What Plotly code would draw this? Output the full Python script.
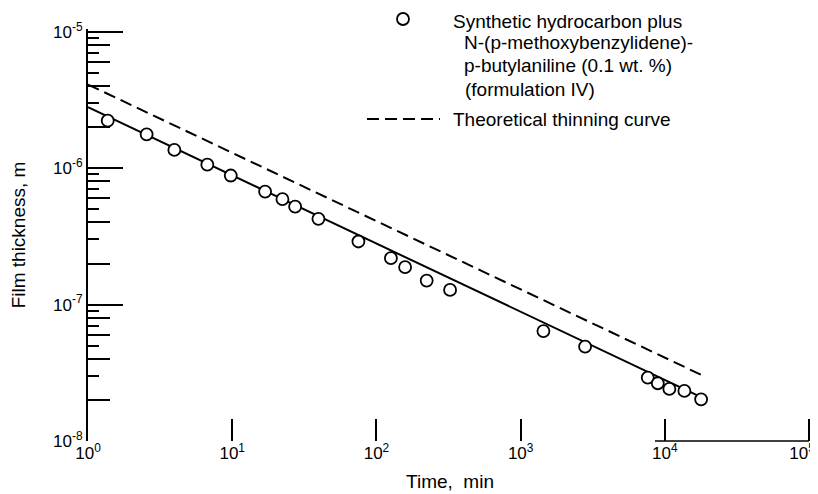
import plotly.graph_objects as go

# ---- data ----
time_min = [1.37, 2.55, 3.97, 6.72, 9.77, 16.9, 22.3, 27.3, 39.6, 75, 126, 158,
            223, 324, 1438, 2797, 7608, 8930, 10740, 13650, 17830]
thickness_m = [2.23e-6, 1.77e-6, 1.36e-6, 1.06e-6, 8.83e-7, 6.73e-7, 5.92e-7,
               5.22e-7, 4.25e-7, 2.90e-7, 2.19e-7, 1.88e-7, 1.50e-7, 1.28e-7,
               6.39e-8, 4.91e-8, 2.91e-8, 2.65e-8, 2.41e-8, 2.33e-8, 2.02e-8]

fit_time = [1, 17830]
fit_thickness = [2.8e-6, 2.1e-8]

theory_time = [1, 18500]
theory_thickness = [4.1e-6, 3.0e-8]

x_tickvals = [1, 10, 100, 1000, 10000, 100000]
x_ticktext = ["10<sup>0</sup>", "10<sup>1</sup>", "10<sup>2</sup>",
              "10<sup>3</sup>", "10<sup>4</sup>",
              "10<sup>5</sup>\u00a0\u00a0\u00a0"]
y_tickvals = [1e-8, 1e-7, 1e-6, 1e-5]
y_ticktext = ["10<sup>-8</sup>", "10<sup>-7</sup>", "10<sup>-6</sup>", "10<sup>-5</sup>"]
y_minor_even = [m * 10.0 ** e for e in (-8, -7, -6) for m in (2, 4, 6, 8)]
y_minor_odd = [m * 10.0 ** e for e in (-8, -7, -6) for m in (3, 5, 7, 9)]

legend_lines = ["Synthetic hydrocarbon plus",
                "N-(p-methoxybenzylidene)-",
                "p-butylaniline (0.1 wt. %)",
                "(formulation IV)"]
legend_dash_label = "Theoretical thinning curve"

FONT = "Liberation Sans, Arial, sans-serif"

X_RANGE = [0, 5.02]
Y_RANGE = [-8, -4.98]

fig = go.Figure()
fig.add_trace(go.Scatter(x=theory_time, y=theory_thickness, mode="lines",
                         line=dict(color="black", width=2, dash="12px,6px"),
                         showlegend=False, hoverinfo="skip"))
fig.add_trace(go.Scatter(x=fit_time, y=fit_thickness, mode="lines",
                         line=dict(color="black", width=2),
                         showlegend=False, hoverinfo="skip"))
fig.add_trace(go.Scatter(x=time_min, y=thickness_m, mode="markers",
                         marker=dict(symbol="circle", size=12, color="white",
                                     line=dict(color="black", width=1.8)),
                         showlegend=False))
# empty traces carrying the minor-tick overlay axes
fig.add_trace(go.Scatter(x=[], y=[], yaxis="y2", showlegend=False, hoverinfo="skip"))
fig.add_trace(go.Scatter(x=[], y=[], yaxis="y3", showlegend=False, hoverinfo="skip"))

# page body has an 8px margin: figure origin sits at screen (8, 8)
OFF = 8
FIG_W, FIG_H = 818 - OFF, 494 - OFF
# plot area in screen pixels (10^5 at x=809, 10^-5 at y=32)
L, R, T, B = 88, 812, 29, 441
W, H = R - L, B - T


def px(x):
    return (x - L) / W


def py(y):
    return (B - y) / H


annotations = []
legend_pos = [(451, 21), (462, 43), (462, 66), (463, 89)]
for text, (lx, ly) in zip(legend_lines, legend_pos):
    annotations.append(dict(text=text, x=px(lx), y=py(ly), xref="paper", yref="paper",
                            xanchor="left", yanchor="middle", showarrow=False,
                            font=dict(family=FONT, size=19, color="black")))
annotations.append(dict(text=legend_dash_label, x=px(451), y=py(119), xref="paper",
                        yref="paper", xanchor="left", yanchor="middle", showarrow=False,
                        font=dict(family=FONT, size=19, color="black")))

shapes = [
    # legend circle
    dict(type="circle", xref="paper", yref="paper",
         x0=px(397), x1=px(409), y0=py(25), y1=py(13),
         line=dict(color="black", width=1.8), fillcolor="white"),
    # legend dashed line
    dict(type="line", xref="paper", yref="paper",
         x0=px(367), x1=px(440), y0=py(119), y1=py(119),
         line=dict(color="black", width=2, dash="12px,6px")),
    # partial bottom axis line (as in the scanned original)
    dict(type="line", xref="paper", yref="paper",
         x0=px(655), x1=px(809), y0=0, y1=0,
         line=dict(color="black", width=1.5)),
]

minor_common = dict(type="log", range=Y_RANGE, automargin=False, overlaying="y",
                    side="left", tickmode="array", showticklabels=False,
                    ticks="inside", tickwidth=1.5, tickcolor="black",
                    showgrid=False, zeroline=False, showline=False)

fig.update_layout(
    template="none",
    width=FIG_W, height=FIG_H,
    margin=dict(l=L - OFF, r=818 - R, t=T - OFF, b=494 - B),
    paper_bgcolor="white", plot_bgcolor="white",
    font=dict(family=FONT, size=17, color="black"),
    showlegend=False,
    annotations=annotations,
    shapes=shapes,
    xaxis=dict(
        type="log", range=X_RANGE, automargin=False,
        tickmode="array", tickvals=x_tickvals, ticktext=x_ticktext,
        ticks="inside", ticklen=22, tickwidth=1.5, tickcolor="black",
        ticklabeloverflow="allow",
        showgrid=False, zeroline=False, showline=False,
        tickfont=dict(family=FONT, size=17),
        title=dict(text="Time,  min", font=dict(family=FONT, size=19), standoff=12),
    ),
    yaxis=dict(
        type="log", range=Y_RANGE, automargin=False,
        tickmode="array", tickvals=y_tickvals, ticktext=y_ticktext,
        ticks="inside", ticklen=35, tickwidth=2, tickcolor="black",
        ticklabeloverflow="allow",
        showgrid=False, zeroline=False, showline=True, linecolor="black", linewidth=2,
        tickfont=dict(family=FONT, size=17),
        title=dict(text="Film thickness, m", font=dict(family=FONT, size=19), standoff=24),
    ),
    yaxis2=dict(tickvals=y_minor_even, ticklen=22, **minor_common),
    yaxis3=dict(tickvals=y_minor_odd, ticklen=11, **minor_common),
)

fig.write_html("out.html")
